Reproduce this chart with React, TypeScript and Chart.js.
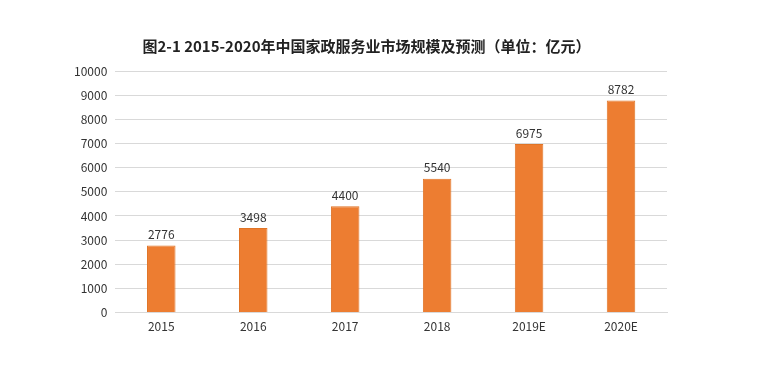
import React, { useEffect, useRef } from "react";
import { Chart, registerables } from "chart.js";

Chart.register(...registerables);

const categories = ["2015", "2016", "2017", "2018", "2019E", "2020E"];
const values = [2776, 3498, 4400, 5540, 6975, 8782];
const titleText = "图2-1 2015-2020年中国家政服务业市场规模及预测（单位：亿元）";
const yMax = 10000;
const yStep = 1000;

const FONT = "'Noto Sans CJK SC', 'Noto Sans', sans-serif";

const labelPlugin = {
  id: "barLabels",
  afterDatasetsDraw(chart: any) {
    const { ctx } = chart;
    const meta = chart.getDatasetMeta(0);
    ctx.save();
    ctx.font = `12px ${FONT}`;
    ctx.fillStyle = "#333";
    ctx.textAlign = "center";
    ctx.textBaseline = "bottom";
    meta.data.forEach((bar: any, i: number) => {
      ctx.fillText(String(values[i]), bar.x, bar.y - 5);
    });
    ctx.restore();
  },
};

export default function App() {
  const ref = useRef<HTMLCanvasElement>(null);
  useEffect(() => {
    if (!ref.current) return;
    const chart = new Chart(ref.current, {
      type: "bar",
      data: {
        labels: categories,
        datasets: [
          {
            data: values,
            backgroundColor: "#ED7D31",
            borderColor: "#E07426",
            borderWidth: 1,
            barPercentage: 0.31,
            categoryPercentage: 1,
          },
        ],
      },
      options: {
        animation: false,
        responsive: false,
        maintainAspectRatio: false,
        layout: { padding: { left: 66, right: 96, top: 37, bottom: 46 } },
        plugins: {
          legend: { display: false },
          tooltip: { enabled: false },
          title: {
            display: true,
            text: titleText,
            color: "#222",
            font: { family: FONT, size: 15, weight: "bold" },
            padding: { top: 0, bottom: 16 },
          },
        },
        scales: {
          x: {
            grid: { display: false },
            border: { display: true, color: "#d9d9d9" },
            ticks: { color: "#333", font: { family: FONT, size: 12 }, padding: -1 },
          },
          y: {
            min: 0,
            max: yMax,
            ticks: {
              stepSize: yStep,
              color: "#333",
              font: { family: FONT, size: 12 },
              padding: 8,
              callback: (v: any) => String(v),
            },
            grid: { color: "#d9d9d9", drawTicks: false },
            border: { display: false },
          },
        },
      },
      plugins: [labelPlugin],
    });
    return () => chart.destroy();
  }, []);
  return (
    <div style={{ position: "fixed", left: 0, top: 0, width: 763, height: 379, background: "#fff" }}>
      <canvas ref={ref} width={763} height={379} />
    </div>
  );
}
